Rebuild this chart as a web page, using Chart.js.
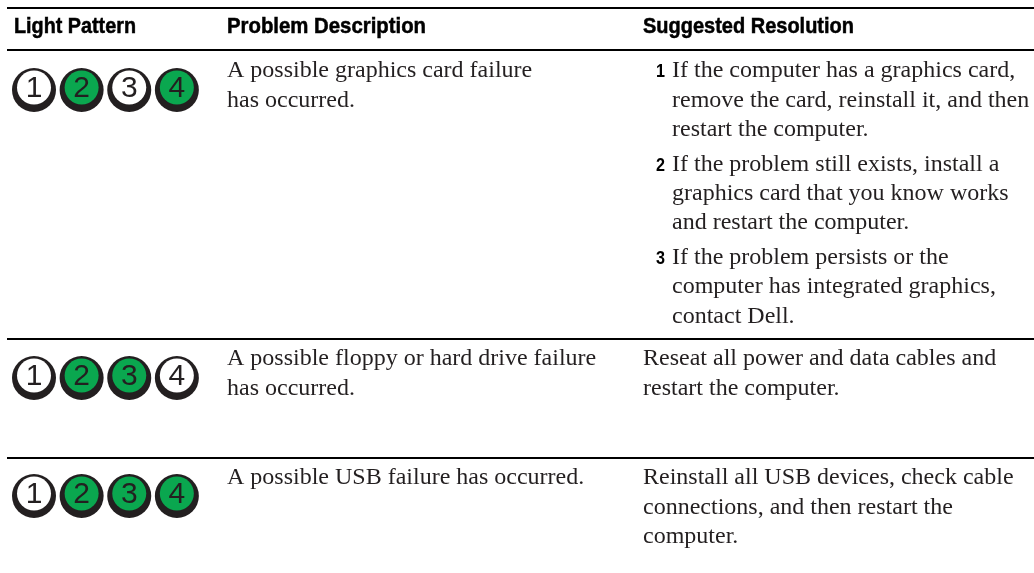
<!DOCTYPE html>
<html>
<head>
<meta charset="utf-8">
<title>Light Pattern</title>
<style>
  html, body { margin: 0; padding: 0; background: #fff; }
  canvas { display: block; }
</style>
<script src="https://cdn.jsdelivr.net/npm/chart.js@4"></script>
</head>
<body>
<canvas id="chart" width="1034" height="573"></canvas>
<script>
const headers = ['Light Pattern', 'Problem Description', 'Suggested Resolution'];
const headerWidths = [122, 199, 211];
const lightNumbers = [1, 2, 3, 4];

// 1 = green, 0 = white, one list per table row
const row1Lights = [0, 1, 0, 1];
const row2Lights = [0, 1, 1, 0];
const row3Lights = [0, 1, 1, 1];

const rowCentres = [90, 378, 496];
const ruleLines = [8, 50, 339, 458];

const problemLines = [
  ['A possible graphics card failure', 'has occurred.'],
  ['A possible floppy or hard drive failure', 'has occurred.'],
  ['A possible USB failure has occurred.']
];
const problemBaselines = [[77, 107], [365, 395], [484]];

const stepNumbers = ['1', '2', '3'];
const stepLines = [
  ['If the computer has a graphics card,', 'remove the card, reinstall it, and then', 'restart the computer.'],
  ['If the problem still exists, install a', 'graphics card that you know works', 'and restart the computer.'],
  ['If the problem persists or the', 'computer has integrated graphics,', 'contact Dell.']
];
const stepBaselines = [[77, 107, 136], [171, 200, 229], [264, 293, 323]];

const plainLines = [
  ['Reseat all power and data cables and', 'restart the computer.'],
  ['Reinstall all USB devices, check cable', 'connections, and then restart the', 'computer.']
];
const plainBaselines = [[365, 395], [484, 514, 543]];

const allRows = [row1Lights, row2Lights, row3Lights];
const outerPoints = [];
const innerPoints = [];
const innerColors = [];

allRows.forEach((lights, r) => {
  lights.forEach((on, i) => {
    outerPoints.push({ x: lightNumbers[i], y: rowCentres[r] });
    // the light sits a little high in its ring, so the ring is thick at the bottom
    innerPoints.push({ x: lightNumbers[i], y: rowCentres[r] - 2.5 });
    innerColors.push(on ? '#0aa74f' : '#ffffff');
  });
});

const headerFont = 'bold 22px "Liberation Sans"';
const bodyFont = '24px "Liberation Serif"';
const stepFont = 'bold 19px "Liberation Sans"';
const digitFont = '30px "Liberation Sans"';

// draws the numbers on the lights and all table text
const tableText = {
  id: 'tableText',
  afterDatasetsDraw(chart) {
    const ctx = chart.ctx;
    const xs = chart.scales.x;
    const ys = chart.scales.y;
    ctx.save();
    ctx.textBaseline = 'alphabetic';

    ctx.font = digitFont;
    ctx.fillStyle = '#231f20';
    ctx.textAlign = 'center';
    outerPoints.forEach((p) => {
      ctx.fillText(String(p.x), xs.getPixelForValue(p.x), ys.getPixelForValue(p.y + 7));
    });

    ctx.textAlign = 'left';
    ctx.font = headerFont;
    ctx.fillStyle = '#000';
    ctx.strokeStyle = '#000';
    ctx.lineWidth = 0.5;
    // no narrow font here, so the header is squeezed to the width it has in the picture
    [14, 227, 643].forEach((x, i) => {
      ctx.fillText(headers[i], x, ys.getPixelForValue(33), headerWidths[i]);
      ctx.strokeText(headers[i], x, ys.getPixelForValue(33), headerWidths[i]);
    });

    ctx.font = bodyFont;
    ctx.fillStyle = '#231f20';
    problemLines.forEach((lines, r) => {
      lines.forEach((t, i) => ctx.fillText(t, 227, ys.getPixelForValue(problemBaselines[r][i])));
    });
    stepLines.forEach((lines, r) => {
      lines.forEach((t, i) => ctx.fillText(t, 672, ys.getPixelForValue(stepBaselines[r][i])));
    });
    plainLines.forEach((lines, r) => {
      lines.forEach((t, i) => ctx.fillText(t, 643, ys.getPixelForValue(plainBaselines[r][i])));
    });

    ctx.font = stepFont;
    ctx.fillStyle = '#000';
    stepNumbers.forEach((n, r) => ctx.fillText(n, 656, ys.getPixelForValue(stepBaselines[r][0]), 9));
    ctx.restore();
  }
};

new Chart(document.querySelector('#chart').getContext('2d'), {
  type: 'scatter',
  data: {
    datasets: [
      { label: 'ring', data: outerPoints, order: 2, pointRadius: 22, pointBackgroundColor: '#231f20', pointBorderWidth: 0 },
      { label: 'light', data: innerPoints, order: 1, pointRadius: 17, pointBackgroundColor: innerColors, pointBorderWidth: 0 }
    ]
  },
  options: {
    responsive: false,
    animation: false,
    layout: { autoPadding: false, padding: { left: 7, right: 0, top: 0, bottom: 0 } },
    plugins: { legend: { display: false }, tooltip: { enabled: false } },
    scales: {
      // one unit is the step between two lights
      x: { type: 'linear', min: 0.433, max: 22, display: false, grid: { display: false } },
      y: {
        type: 'linear',
        reverse: true,
        min: 0,
        max: 573,
        afterBuildTicks(axis) { axis.ticks = ruleLines.map((v) => ({ value: v })); },
        ticks: { display: false },
        border: { display: false },
        grid: { color: '#000', lineWidth: 2, drawTicks: false }
      }
    }
  },
  plugins: [tableText]
});
</script>
</body>
</html>
